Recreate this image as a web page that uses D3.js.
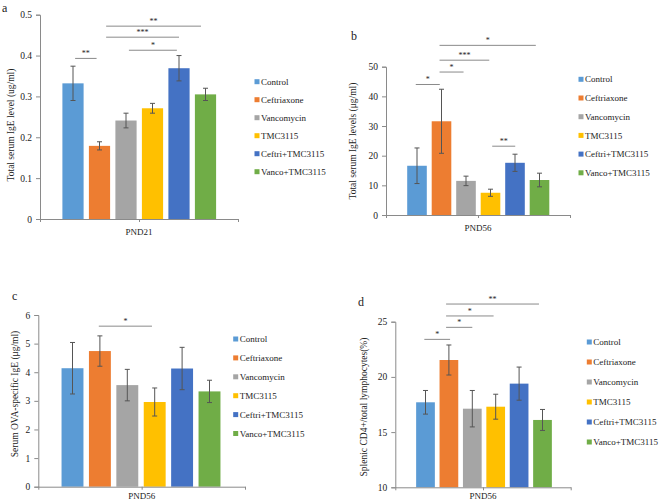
<!DOCTYPE html>
<html><head><meta charset="utf-8">
<script src="https://cdn.jsdelivr.net/npm/d3@7"></script>
<style>body{margin:0;background:#fff}svg{display:block}text{font-family:"Liberation Serif","Times New Roman",serif;fill:#222}</style>
</head><body>
<script>
// ---------- DATA ----------
const groups = ["Control","Ceftriaxone","Vancomycin","TMC3115","Ceftri+TMC3115","Vanco+TMC3115"];

const aMeans = [0.332,0.179,0.241,0.271,0.369,0.305];
const aErrs  = [0.042,0.010,0.018,0.012,0.031,0.015];
const aTicks = [0,0.1,0.2,0.3,0.4,0.5];
const aSig = [[0.08,0.89,0.393,"**"],[2.11,3.92,0.413,"*"],[1.25,4.0,0.445,"***"],[1.25,4.83,0.472,"**"]];

const bMeans = [16.6,31.6,11.5,7.5,17.6,11.8];
const bErrs  = [6.0,10.8,1.6,1.2,2.9,2.3];
const bTicks = [0,10,20,30,40,50];
const bSig = [[-0.05,0.93,44.0,"*"],[0.92,1.9,48.2,"*"],[0.92,2.95,52.2,"***"],[0.92,4.85,57.2,"*"],[3.07,4.01,23.2,"**"]];

const cMeans = [4.14,4.74,3.55,2.96,4.13,3.33];
const cErrs  = [0.90,0.53,0.55,0.49,0.74,0.39];
const cTicks = [0,1,2,3,4,5,6];
const cSig = [[0.96,2.9,5.61,"*"]];

const dMeans = [17.70,21.53,17.12,17.30,19.39,16.10];
const dErrs  = [1.07,1.36,1.65,1.13,1.50,0.95];
const dTicks = [10,15,20,25];
const dSig = [[-0.05,1.05,23.4,"*"],[0.88,2.0,24.49,"*"],[0.88,2.91,25.52,"*"],[0.88,4.85,26.6,"**"]];

// ---------- STYLE / LAYOUT ----------
const colors = ["#5B9BD5","#ED7D31","#A5A5A5","#FFC000","#4472C4","#70AD47"];

const panels = [
 {tag:"a", tagX:2, tagY:8, means:aMeans, errs:aErrs, ticks:aTicks, sig:aSig, fmt:d=>d===0?"0":d3.format(".1f")(d),
  domain:[0,0.5], axX:40, axR:238, yTop:14.7, yBot:219, c0:73, step:26.5, xLabel:"PND21",
  yLabel:"Total serum IgE level (ug/ml)", yLabX:11, yLabY:125, legX:257, legY:81.7, legStep:18},
 {tag:"b", tagX:351, tagY:36, means:bMeans, errs:bErrs, ticks:bTicks, sig:bSig, fmt:d3.format("d"),
  domain:[0,50], axX:386, axR:570, yTop:66.7, yBot:215, c0:417, step:24.5, xLabel:"PND56",
  yLabel:"Total serum IgE levels (μg/ml)", yLabX:353, yLabY:141, legX:581, legY:79.3, legStep:18.7},
 {tag:"c", tagX:12, tagY:296, means:cMeans, errs:cErrs, ticks:cTicks, sig:cSig, fmt:d3.format("d"),
  domain:[0,6], axX:38.3, axR:245, yTop:315, yBot:486.7, c0:72.5, step:27.4, xLabel:"PND56",
  yLabel:"Serum OVA-specific IgE (μg/ml)", yLabX:15, yLabY:394, legX:235.7, legY:339, legStep:18.9},
 {tag:"d", tagX:358, tagY:302, means:dMeans, errs:dErrs, ticks:dTicks, sig:dSig, fmt:d3.format("d"),
  domain:[10,25], axX:395.3, axR:570.7, yTop:321.7, yBot:487.3, c0:425.5, step:23.4, xLabel:"PND56",
  yLabel:"Splenic CD4+/total lymphocytes(%)", yLabX:364, yLabY:407, legX:589.3, legY:342, legStep:20}
];

const svg = d3.select("body").append("svg").attr("width",659).attr("height",501);

panels.forEach(p => {
  const g = svg.append("g");
  const y = d3.scaleLinear().domain(p.domain).range([p.yBot, p.yTop]);
  const x = d3.scaleBand().domain(groups)
     .range([p.c0 - p.step/2, p.c0 + (groups.length - 0.5)*p.step])
     .paddingInner(0.2).paddingOuter(0.1);
  const pos = i => x(groups[0]) + x.bandwidth()/2 + i*x.step();

  // bars
  g.selectAll("rect.bar").data(p.means).join("rect")
    .attr("x",(d,i)=>x(groups[i])).attr("width",x.bandwidth())
    .attr("y",d=>y(d)).attr("height",d=>y(p.domain[0])-y(d))
    .attr("fill",(d,i)=>colors[i]);

  // y axis
  const yAxis = d3.axisLeft(y).tickValues(p.ticks).tickFormat(p.fmt).tickSize(4).tickPadding(4);
  const ya = g.append("g").attr("transform",`translate(${p.axX},0)`).call(yAxis);
  ya.select(".domain").attr("stroke","#8a8a8a");
  ya.selectAll(".tick line").attr("stroke","#8a8a8a");
  ya.selectAll(".tick text").style("font-family",'"Liberation Serif",serif').style("font-size","9.5px").attr("fill","#333");

  // x axis line with ticks at ends and middle
  const xl = d3.scaleLinear().domain([0,1]).range([p.axX,p.axR]);
  const xa = g.append("g").attr("transform",`translate(0,${p.yBot})`)
     .call(d3.axisBottom(xl).tickValues([0,0.5,1]).tickFormat("").tickSizeInner(3).tickSizeOuter(0));
  xa.select(".domain").attr("stroke","#8a8a8a");
  xa.selectAll(".tick line").attr("stroke","#8a8a8a");
  g.append("text").attr("x",xl(0.5)).attr("y",Math.min(p.yBot+16, 498.5)).attr("text-anchor","middle")
    .style("font-size","9px").text(p.xLabel);

  // error bars
  const eg = g.append("g").attr("stroke","#555").attr("stroke-width",1);
  p.means.forEach((m,i)=>{
    const cx = pos(i), hi = y(m+p.errs[i]), lo = y(m-p.errs[i]);
    eg.append("line").attr("x1",cx).attr("x2",cx).attr("y1",hi).attr("y2",lo);
    eg.append("line").attr("x1",cx-2.5).attr("x2",cx+2.5).attr("y1",hi).attr("y2",hi);
    eg.append("line").attr("x1",cx-2.5).attr("x2",cx+2.5).attr("y1",lo).attr("y2",lo);
  });

  // significance lines
  p.sig.forEach(s=>{
    const x1 = pos(s[0]), x2 = pos(s[1]), yy = y(s[2]);
    g.append("line").attr("x1",x1).attr("x2",x2).attr("y1",yy).attr("y2",yy)
      .attr("stroke","#8a8a8a").attr("stroke-width",1);
    g.append("text").attr("x",(x1+x2)/2).attr("y",yy-2).attr("text-anchor","middle")
      .style("font-size","8px").text(s[3]);
  });

  // y label
  g.append("text").attr("transform",`translate(${p.yLabX},${p.yLabY}) rotate(-90)`)
    .attr("text-anchor","middle").attr("dy","0.35em").style("font-size","9.5px").text(p.yLabel);

  // panel tag
  g.append("text").attr("x",p.tagX).attr("y",p.tagY).attr("dy","0.35em").style("font-size","12px").text(p.tag);

  // legend
  const lg = g.append("g");
  groups.forEach((name,i)=>{
    const ly = p.legY + i*p.legStep;
    lg.append("rect").attr("x",p.legX-2.5).attr("y",ly-2.5).attr("width",5).attr("height",5).attr("fill",colors[i]);
    lg.append("text").attr("x",p.legX+4).attr("y",ly).attr("dy","0.35em").style("font-size","9px").text(name);
  });
});
</script>
</body></html>
